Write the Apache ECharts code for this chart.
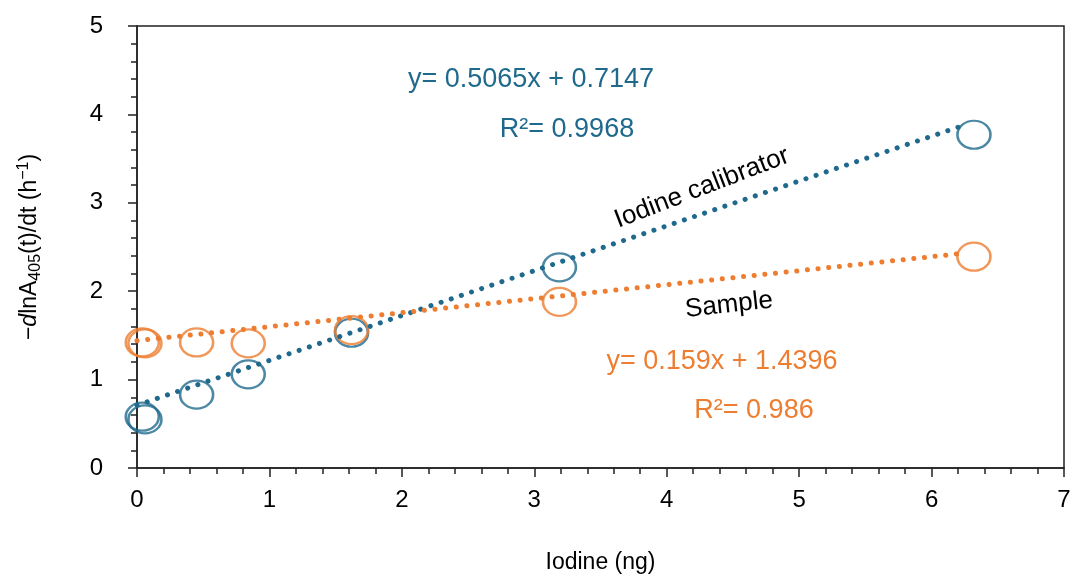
<!DOCTYPE html>
<html>
<head>
<meta charset="utf-8">
<script src="https://cdn.jsdelivr.net/npm/echarts@6/dist/echarts.min.js"></script>
<style>html,body{margin:0;padding:0;background:#fff}#c{width:1073px;height:578px}</style>
</head>
<body>
<div id="c"></div>
<script>
// Data
const calibratorX = [0.04, 0.06, 0.45, 0.84, 1.62, 3.19, 6.32];
const calibratorY = [0.58, 0.55, 0.83, 1.06, 1.53, 2.27, 3.77];
const sampleX = [0.04, 0.06, 0.45, 0.84, 1.62, 3.19, 6.32];
const sampleY = [1.42, 1.41, 1.42, 1.41, 1.56, 1.88, 2.39];
// trend line endpoints (x, y)
const calibratorTrendX = [0, 6.25];
const calibratorTrendY = [0.71, 3.88];
const sampleTrendX = [0, 6.25];
const sampleTrendY = [1.44, 2.43];
const xTicks = [0, 1, 2, 3, 4, 5, 6, 7];
const yTicks = [0, 1, 2, 3, 4, 5];
const labels = {
  calEq: 'y= 0.5065x + 0.7147',
  calR2: 'R²= 0.9968',
  calName: 'Iodine calibrator',
  samName: 'Sample',
  samEq: 'y= 0.159x + 1.4396',
  samR2: 'R²= 0.986'
};

const BLUE = '#1f6a8c';
const ORANGE = '#ed7d31';
const FONT = '"Liberation Sans", Arial, sans-serif';

const zip = (xs, ys) => xs.map((x, i) => [x, ys[i]]);

const chart = echarts.init(document.getElementById('c'));
const axisCommon = {
  axisLine: { show: true, lineStyle: { color: '#222', width: 1.5 } },
  axisTick: { show: true, inside: false, length: 9, lineStyle: { color: '#222', width: 1.5 } },
  minorTick: { show: true, splitNumber: 5, length: 6, lineStyle: { color: '#222', width: 1.5 } },
  splitLine: { show: false },
  minorSplitLine: { show: false }
};
chart.setOption({
  animation: false,
  backgroundColor: '#fff',
  grid: { left: 137, right: 9, top: 26, bottom: 110, outerBoundsMode: 'none', containLabel: false, show: true, borderColor: '#222', borderWidth: 1.5, backgroundColor: 'transparent' },
  xAxis: Object.assign({
    type: 'value', min: xTicks[0], max: xTicks[xTicks.length - 1], interval: 1,
    name: 'Iodine (ng)', nameLocation: 'middle', nameGap: 83,
    nameTextStyle: { fontFamily: FONT, fontSize: 23, color: '#000' },
    axisLabel: { fontFamily: FONT, fontSize: 24, color: '#000', margin: 20 }
  }, axisCommon),
  yAxis: Object.assign({
    type: 'value', min: yTicks[0], max: yTicks[yTicks.length - 1], interval: 1,
    name: '{a|−}{i|d}{a|lnA}{sub|405}{a|(t)/dt (h}{sup|−1}{a|)}',
    nameLocation: 'middle', nameGap: 93, nameRotate: 90,
    nameTextStyle: {
      fontFamily: FONT, fontSize: 23, color: '#000',
      rich: {
        a: { fontFamily: FONT, fontSize: 23, color: '#000' },
        i: { fontFamily: FONT, fontSize: 23, fontStyle: 'italic', color: '#000' },
        sub: { fontFamily: FONT, fontSize: 16, color: '#000', padding: [12, 0, 0, 0] },
        sup: { fontFamily: FONT, fontSize: 16, color: '#000', padding: [0, 0, 12, 0] }
      }
    },
    axisLabel: { fontFamily: FONT, fontSize: 24, color: '#000', margin: 34 }
  }, axisCommon),
  series: [
    {
      type: 'line', data: zip(calibratorTrendX, calibratorTrendY), showSymbol: false, z: 3,
      lineStyle: { color: BLUE, width: 5, type: [0.1, 10.6], cap: 'round' }
    },
    {
      type: 'line', data: zip(sampleTrendX, sampleTrendY), showSymbol: false, z: 3,
      lineStyle: { color: ORANGE, width: 5, type: [0.1, 10.6], cap: 'round' }
    },
    {
      type: 'scatter', data: zip(calibratorX, calibratorY), symbol: 'circle', symbolSize: [33, 28], z: 2,
      itemStyle: { color: 'transparent', borderColor: BLUE, borderWidth: 2.4 }
    },
    {
      type: 'scatter', data: zip(sampleX, sampleY), symbol: 'circle', symbolSize: [33, 28], z: 2,
      itemStyle: { color: 'transparent', borderColor: ORANGE, borderWidth: 2.4 }
    }
  ],
  graphic: [
    { type: 'text', x: 531, y: 80, style: { text: labels.calEq, fill: BLUE, font: '27px ' + FONT, align: 'center', verticalAlign: 'middle' } },
    { type: 'text', x: 567, y: 130, style: { text: labels.calR2, fill: BLUE, font: '27px ' + FONT, align: 'center', verticalAlign: 'middle' } },
    { type: 'text', x: 702, y: 188, rotation: 21 * Math.PI / 180, style: { text: labels.calName, fill: '#000', font: '26px ' + FONT, align: 'center', verticalAlign: 'middle' } },
    { type: 'text', x: 729, y: 305, rotation: 6.3 * Math.PI / 180, style: { text: labels.samName, fill: '#000', font: '26px ' + FONT, align: 'center', verticalAlign: 'middle' } },
    { type: 'text', x: 722, y: 362, style: { text: labels.samEq, fill: ORANGE, font: '27px ' + FONT, align: 'center', verticalAlign: 'middle' } },
    { type: 'text', x: 754, y: 411, style: { text: labels.samR2, fill: ORANGE, font: '27px ' + FONT, align: 'center', verticalAlign: 'middle' } }
  ]
});
</script>
</body>
</html>
